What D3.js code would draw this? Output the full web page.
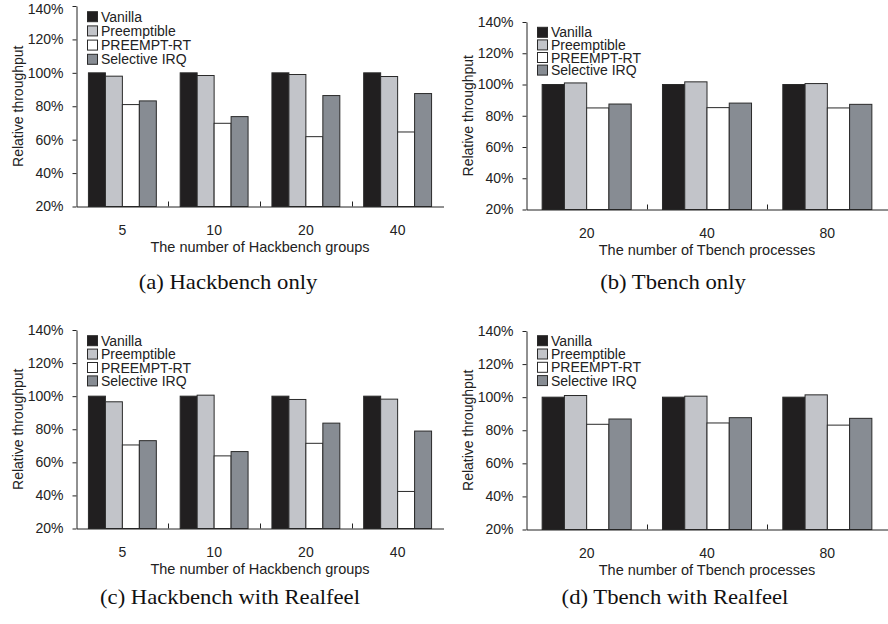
<!DOCTYPE html>
<html>
<head>
<meta charset="utf-8">
<script src="https://cdn.jsdelivr.net/npm/d3@7"></script>
<style>
  body { margin: 0; background: #fff; }
  svg text { font-family: "Liberation Sans", Arial, sans-serif; fill: #222; }
  svg text.caption { font-family: "Liberation Serif", "Times New Roman", serif; fill: #111; }
</style>
</head>
<body>
<div id="chart"></div>
<script>
var svgWidth = 888;
var svgHeight = 624;

// series and categories
var seriesNames = ["Vanilla", "Preemptible", "PREEMPT-RT", "Selective IRQ"];
var hackbenchGroups = ["5", "10", "20", "40"];
var tbenchProcesses = ["20", "40", "80"];
var yTicks = [20, 40, 60, 80, 100, 120, 140];

// (a) Hackbench only
var hackOnlyVanilla = [100, 100, 100, 100];
var hackOnlyPreemptible = [98, 98.4, 99, 97.8];
var hackOnlyPreemptRT = [81, 69.8, 61.8, 64.6];
var hackOnlySelectiveIRQ = [83.2, 73.8, 86.4, 87.6];

// (b) Tbench only
var tbenchOnlyVanilla = [100, 100, 100];
var tbenchOnlyPreemptible = [101, 101.7, 100.6];
var tbenchOnlyPreemptRT = [85, 85.2, 85];
var tbenchOnlySelectiveIRQ = [87.5, 88.1, 87.3];

// (c) Hackbench with Realfeel
var hackRealfeelVanilla = [100, 100, 100, 100];
var hackRealfeelPreemptible = [96.6, 100.6, 98, 98.2];
var hackRealfeelPreemptRT = [70.5, 63.9, 71.5, 42.4];
var hackRealfeelSelectiveIRQ = [73.1, 66.5, 83.7, 78.9];

// (d) Tbench with Realfeel
var tbenchRealfeelVanilla = [100, 100, 100];
var tbenchRealfeelPreemptible = [101, 100.6, 101.4];
var tbenchRealfeelPreemptRT = [83.6, 84.4, 83.1];
var tbenchRealfeelSelectiveIRQ = [86.8, 87.6, 87.2];

var colors = ["#211f20", "#c2c4c9", "#ffffff", "#878c93"];

var panels = [
  {cats: hackbenchGroups,
   values: [hackOnlyVanilla, hackOnlyPreemptible, hackOnlyPreemptRT, hackOnlySelectiveIRQ],
   xTitle: "The number of Hackbench groups", caption: "(a) Hackbench only",
   left: 76.5, right: 443.5, top: 6, bottom: 206.5, legendY: 16.7, legendStep: 14.2, capX: 228, capY: 289},
  {cats: tbenchProcesses,
   values: [tbenchOnlyVanilla, tbenchOnlyPreemptible, tbenchOnlyPreemptRT, tbenchOnlySelectiveIRQ],
   xTitle: "The number of Tbench processes", caption: "(b) Tbench only",
   left: 526.5, right: 887.5, top: 22, bottom: 209.5, legendY: 32.3, legendStep: 12.6, capX: 673, capY: 289},
  {cats: hackbenchGroups,
   values: [hackRealfeelVanilla, hackRealfeelPreemptible, hackRealfeelPreemptRT, hackRealfeelSelectiveIRQ],
   xTitle: "The number of Hackbench groups", caption: "(c) Hackbench with Realfeel",
   left: 76.5, right: 443.5, top: 330, bottom: 528.5, legendY: 340.7, legendStep: 13.4, capX: 230, capY: 604},
  {cats: tbenchProcesses,
   values: [tbenchRealfeelVanilla, tbenchRealfeelPreemptible, tbenchRealfeelPreemptRT, tbenchRealfeelSelectiveIRQ],
   xTitle: "The number of Tbench processes", caption: "(d) Tbench with Realfeel",
   left: 526.5, right: 887.5, top: 331, bottom: 529.5, legendY: 340.7, legendStep: 13.3, capX: 675, capY: 604}
];

var svg = d3.select("#chart")
  .append("svg")
  .attr("width", svgWidth)
  .attr("height", svgHeight);

svg.append("rect")
  .attr("width", svgWidth)
  .attr("height", svgHeight)
  .attr("fill", "#fff");

function drawPanel(p) {
  var g = svg.append("g");

  var x0 = d3.scaleBand().domain(p.cats).range([p.left, p.right]).padding(0);
  var bw = x0.bandwidth();
  var x1 = d3.scaleBand().domain(seriesNames).range([bw * 0.13, bw * 0.87]).padding(0);
  var y = d3.scaleLinear().domain([20, 140]).range([p.bottom, p.top]);

  // bars, one series at a time
  seriesNames.forEach(function(name, i) {
    g.selectAll(null)
      .data(p.values[i])
      .enter()
      .append("rect")
      .attr("x", (d, j) => x0(p.cats[j]) + x1(name))
      .attr("y", d => y(d))
      .attr("width", x1.bandwidth())
      .attr("height", d => y(20) - y(d))
      .attr("fill", colors[i])
      .attr("stroke", "#2a2a2a")
      .attr("stroke-width", 1);
  });

  // y axis
  var leftAxis = d3.axisLeft(y)
    .tickValues(yTicks)
    .tickFormat(d => d + "%")
    .tickSize(4)
    .tickSizeOuter(0)
    .tickPadding(9);

  var yAxis = g.append("g")
    .attr("transform", `translate(${p.left},0)`)
    .call(leftAxis)
    .attr("font-size", 14)
    .attr("font-family", null);
  yAxis.selectAll("path, line").attr("stroke", "#222");

  // keep the top label inside the page
  if (p.top < 10) {
    yAxis.selectAll(".tick text").filter(d => d === 140).attr("dy", "0.55em");
  }

  // x axis with group labels
  var bottomAxis = d3.axisBottom(x0)
    .tickSize(0)
    .tickSizeOuter(0)
    .tickPadding(19);

  var xAxis = g.append("g")
    .attr("transform", `translate(0,${p.bottom})`)
    .call(bottomAxis)
    .attr("font-size", 14)
    .attr("font-family", null);
  xAxis.selectAll("path").attr("stroke", "#222");

  // separators between groups
  g.selectAll(null)
    .data(p.cats.slice(1))
    .enter()
    .append("line")
    .attr("x1", d => Math.round(x0(d)) + 0.5)
    .attr("x2", d => Math.round(x0(d)) + 0.5)
    .attr("y1", p.bottom)
    .attr("y2", p.bottom - 5)
    .attr("stroke", "#222");

  // axis titles
  g.append("text")
    .attr("x", (p.left + p.right) / 2)
    .attr("y", p.bottom + 45)
    .attr("text-anchor", "middle")
    .attr("font-size", 14.5)
    .text(p.xTitle);

  g.append("text")
    .attr("transform", "rotate(-90)")
    .attr("x", -(p.top + p.bottom) / 2)
    .attr("y", p.left - 58)
    .attr("dy", "0.35em")
    .attr("text-anchor", "middle")
    .attr("font-size", 14)
    .text("Relative throughput");

  // legend
  var legend = g.append("g")
    .attr("transform", `translate(${p.left + 11},${p.legendY})`);

  seriesNames.forEach(function(name, i) {
    var row = legend.append("g")
      .attr("transform", `translate(0,${i * p.legendStep})`);
    row.append("rect")
      .attr("x", 0)
      .attr("y", -5)
      .attr("width", 10)
      .attr("height", 10)
      .attr("fill", colors[i])
      .attr("stroke", "#2a2a2a");
    row.append("text")
      .attr("x", 13.5)
      .attr("dy", "0.36em")
      .attr("font-size", 14)
      .text(name);
  });

  // caption under the panel
  svg.append("text")
    .attr("class", "caption")
    .attr("transform", `translate(${p.capX},${p.capY}) scale(1.08,1)`)
    .attr("text-anchor", "middle")
    .attr("font-size", 21)
    .text(p.caption);
}

panels.forEach(drawPanel);
</script>
</body>
</html>
